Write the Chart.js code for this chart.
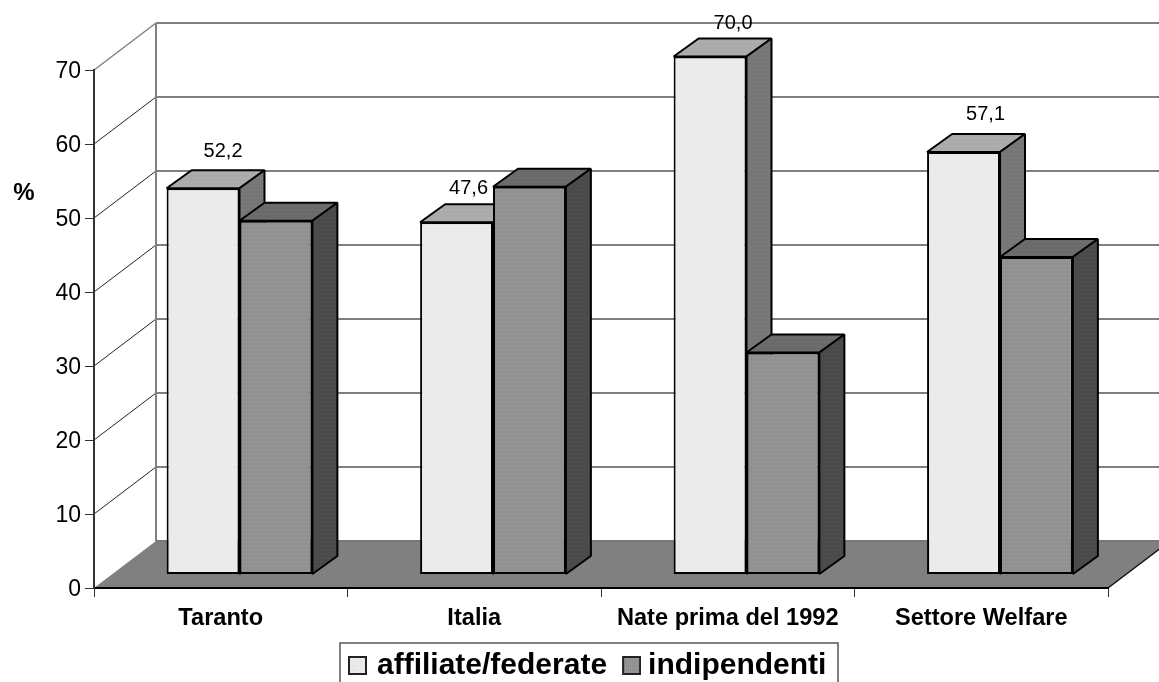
<!DOCTYPE html>
<html>
<head>
<meta charset="utf-8">
<title>Affiliate e indipendenti</title>
<script src="https://cdn.jsdelivr.net/npm/chart.js@4"></script>
<style>
  html, body { margin: 0; padding: 0; background: #fff; overflow: hidden; }
  canvas { display: block; }
</style>
</head>
<body>
<canvas id="bars" width="1159" height="682"></canvas>
<script>
const categories = ['Taranto', 'Italia', 'Nate prima del 1992', 'Settore Welfare'];
const affiliate = [52.2, 47.6, 70.0, 57.1];
const indipendenti = [47.8, 52.4, 30.0, 42.9];
const seriesNames = ['affiliate/federate', 'indipendenti'];
const yTicks = [0, 10, 20, 30, 40, 50, 60, 70];

const FONT = '"Liberation Sans", Arial, sans-serif';

// depth of the box behind the plot, and how far into it the bars stand
const wallDepth = { x: 62, y: -47 };
const barDepth = { x: 25, y: -18 };
const barShift = { x: 18.75, y: -13.5 };

// value labels sit a little unevenly above their bars
const labelNudgeX = [20, 12, 23, 22];
const labelNudgeY = [-37, -34, -33, -37];

// small dithered tile, bars and legend swatches share it
function dither(base, alt) {
  const c = document.createElement('canvas');
  c.width = c.height = 4;
  const g = c.getContext('2d');
  g.fillStyle = base;
  g.fillRect(0, 0, 4, 4);
  g.fillStyle = alt;
  g.fillRect(0, 0, 1, 4);
  g.fillRect(2, 0, 1, 4);
  g.fillRect(0, 1, 4, 1);
  return c;
}

function hatch(ctx, base, alt) {
  return ctx.createPattern(dither(base, alt), 'repeat');
}

// legend point image; pad widens it on the left so the box lands further right
function swatch(base, alt, pad) {
  const c = document.createElement('canvas');
  c.width = 19 + pad;
  c.height = 19;
  const g = c.getContext('2d');
  g.translate(pad, 0);
  g.fillStyle = g.createPattern(dither(base, alt), 'repeat');
  g.fillRect(0, 0, 19, 19);
  g.strokeStyle = '#222';
  g.lineWidth = 2;
  g.strokeRect(1, 1, 17, 17);
  return c;
}

const ctx = document.getElementById('bars').getContext('2d');

const faces = [
  { top: hatch(ctx, '#b2b2b2', '#a8a8a8'), side: hatch(ctx, '#7e7e7e', '#747474') },
  { top: hatch(ctx, '#727272', '#686868'), side: hatch(ctx, '#525252', '#484848') }
];
const swatches = [swatch('#f0f0f0', '#e6e6e6', 0), swatch('#9a9a9a', '#8e8e8e', 6)];

function poly(c, points, fill, stroke, width) {
  c.beginPath();
  points.forEach((p, i) => (i ? c.lineTo(p[0], p[1]) : c.moveTo(p[0], p[1])));
  c.closePath();
  if (fill) {
    c.fillStyle = fill;
    c.fill();
  }
  if (stroke) {
    c.strokeStyle = stroke;
    c.lineWidth = width;
    c.stroke();
  }
}

function seg(c, x1, y1, x2, y2, color, width) {
  c.beginPath();
  c.moveTo(x1, y1);
  c.lineTo(x2, y2);
  c.strokeStyle = color;
  c.lineWidth = width;
  c.stroke();
}

const box3d = {
  id: 'box3d',
  // floor, back wall and the grid lines wrapping round the left side
  beforeDraw(chart) {
    const c = chart.ctx;
    const { left, right } = chart.chartArea;
    const y = chart.scales.y;
    const zero = y.getPixelForValue(0);
    const dx = wallDepth.x, dy = wallDepth.y;
    const topValue = yTicks[yTicks.length - 1];
    c.save();
    yTicks.slice(1).forEach(v => {
      const py = y.getPixelForValue(v);
      const isTop = v === topValue;
      seg(c, left, py, left + dx, py + dy, isTop ? '#808080' : '#222', isTop ? 1.5 : 1);
      seg(c, left + dx, py + dy, right + dx, py + dy, isTop ? '#808080' : '#555', isTop ? 2 : 1.5);
    });
    seg(c, left + dx, y.getPixelForValue(topValue) + dy, left + dx, zero + dy, '#808080', 2);
    poly(c, [[left, zero], [right, zero], [right + dx, zero + dy], [left + dx, zero + dy]], '#808080');
    seg(c, left + dx, zero + dy, right + dx, zero + dy, '#777', 2);
    seg(c, right, zero, right + dx, zero + dy, '#111', 1.5);
    c.restore();
  },
  // each bar gets its top and side first, the library draws the front on top
  beforeDatasetsDraw(chart) {
    const c = chart.ctx;
    chart.data.datasets.forEach((ds, i) => {
      const meta = chart.getDatasetMeta(i);
      c.save();
      c.translate(barShift.x, barShift.y);
      meta.data.forEach(bar => {
        const l = bar.x - bar.width / 2, r = bar.x + bar.width / 2;
        const t = bar.y, b = bar.base;
        const dx = barDepth.x, dy = barDepth.y;
        c.lineJoin = 'bevel';
        poly(c, [[l, t], [r, t], [r + dx, t + dy], [l + dx, t + dy]], faces[i].top, '#000', 2);
        poly(c, [[r, t], [r + dx, t + dy], [r + dx, b + dy], [r, b]], faces[i].side, '#000', 2);
      });
      meta.controller.draw();
      c.restore();
    });
    return false;
  },
  // the legend sits in its own frame, off centre and close to the bottom edge
  afterLayout(chart) {
    const legend = chart.legend;
    legend.left = 336;
    legend.right = 870;
    legend.top = 633.5;
    legend.bottom = 698;
  },
  afterDraw(chart) {
    const c = chart.ctx;
    const bars = chart.getDatasetMeta(0).data;
    c.save();
    // value labels, first series only
    c.font = '20px ' + FONT;
    c.fillStyle = '#000';
    c.textAlign = 'center';
    c.textBaseline = 'middle';
    bars.forEach((bar, i) => {
      const x = bar.x + barShift.x + labelNudgeX[i];
      const y = bar.y + barShift.y + labelNudgeY[i];
      c.fillText(affiliate[i].toFixed(1).replace('.', ','), x, y);
    });
    c.font = 'bold 24px ' + FONT;
    c.fillText('%', 24, 193);
    // legend frame, runs off the bottom of the canvas
    c.strokeStyle = '#555';
    c.lineWidth = 1.5;
    c.strokeRect(340, 643, 498, 60);
    c.restore();
  }
};

new Chart(ctx, {
  type: 'bar',
  data: {
    labels: categories,
    datasets: [
      {
        label: seriesNames[0],
        data: affiliate,
        backgroundColor: hatch(ctx, '#f0f0f0', '#e8e8e8'),
        borderColor: '#000',
        borderWidth: 2,
        borderSkipped: false,
        categoryPercentage: 0.575,
        barPercentage: 1
      },
      {
        label: seriesNames[1],
        data: indipendenti,
        backgroundColor: hatch(ctx, '#9a9a9a', '#8e8e8e'),
        borderColor: '#000',
        borderWidth: 2,
        borderSkipped: false,
        categoryPercentage: 0.575,
        barPercentage: 1
      }
    ]
  },
  options: {
    responsive: false,
    animation: false,
    events: [],
    layout: { padding: { left: 0, top: 70, right: 51, bottom: 0 } },
    plugins: {
      tooltip: { enabled: false },
      legend: {
        position: 'bottom',
        align: 'start',
        maxHeight: 44,
        labels: {
          color: '#000',
          font: { family: FONT, size: 30, weight: 'bold' },
          usePointStyle: true,
          pointStyleWidth: 9,
          boxHeight: 19,
          padding: 17,
          generateLabels(chart) {
            const items = Chart.defaults.plugins.legend.labels.generateLabels(chart);
            items.forEach((item, i) => { item.pointStyle = swatches[i]; });
            return items;
          }
        }
      }
    },
    scales: {
      x: {
        afterFit(scale) { scale.height = 50; },
        grid: { drawOnChartArea: false, color: '#333', lineWidth: 1, tickLength: 9, offset: true },
        border: { color: '#000', width: 2 },
        ticks: {
          color: '#000',
          padding: 7,
          maxRotation: 0,
          font: { family: FONT, size: 23.6, weight: 'bold' }
        }
      },
      y: {
        min: 0,
        max: 70,
        afterFit(scale) { scale.width = 94; },
        grid: { drawOnChartArea: false, color: '#333', lineWidth: 1, tickLength: 9 },
        border: { color: '#333', width: 2 },
        afterBuildTicks(scale) { scale.ticks = yTicks.map(value => ({ value })); },
        ticks: {
          color: '#000',
          padding: 4,
          labelOffset: 2,
          font: { family: FONT, size: 23 }
        }
      }
    }
  },
  plugins: [box3d]
});
</script>
</body>
</html>
